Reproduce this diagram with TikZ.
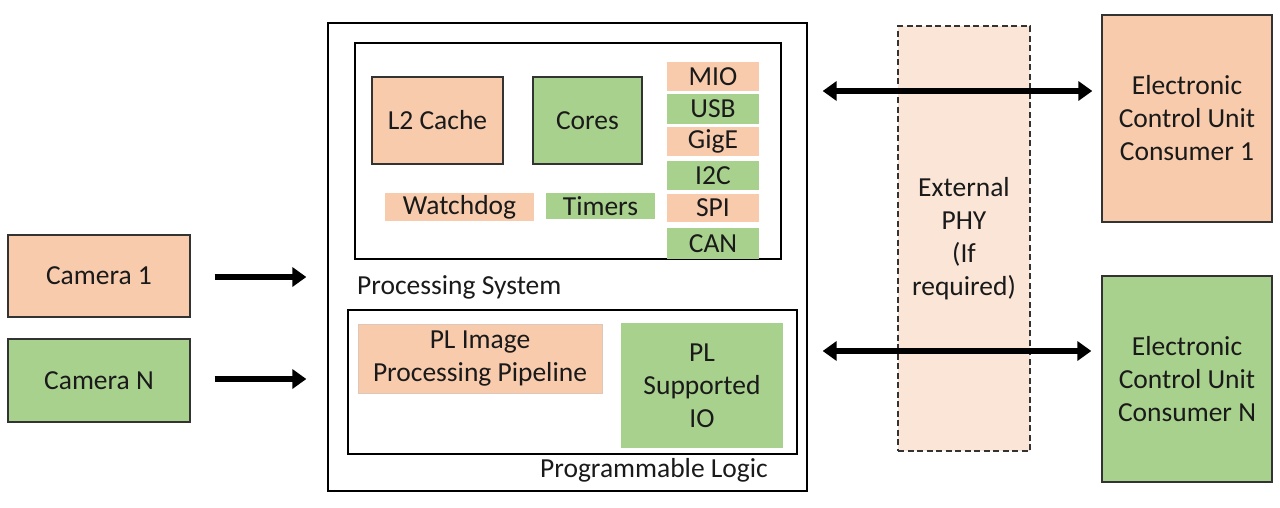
\documentclass[tikz,border=0pt]{standalone}
\usepackage{fontspec}
\setmainfont{Carlito}
\usetikzlibrary{arrows.meta}
\definecolor{pk}{HTML}{F8CBAD}
\definecolor{gr}{HTML}{A9D18E}
\definecolor{phy}{HTML}{FBE5D6}
\definecolor{txt}{HTML}{1A1A1A}
\definecolor{edge}{HTML}{333333}
\begin{document}
\begin{tikzpicture}[x=1pt,y=-1pt,
  every node/.style={font=\fontsize{27.5}{33}\selectfont, text=txt, inner sep=0pt, align=center},
  pinkbox/.style={fill=pk, draw=edge, line width=1.3pt},
  greenbox/.style={fill=gr, draw=edge, line width=1.3pt},
  pinkflat/.style={fill=pk},
  greenflat/.style={fill=gr},
  frame/.style={draw=black, line width=1.3pt},
  bigarrow/.style={line width=5.5pt, -{Triangle[length=14pt,width=19pt]}},
  duoarrow/.style={line width=5.5pt, {Triangle[length=14pt,width=19pt]}-{Triangle[length=14pt,width=19pt]}}
]
\useasboundingbox (0,0) rectangle (1280,507);
% outer system
\node[frame, minimum width=479pt, minimum height=468pt] (outer) at (567.5,257) {};
\node[frame, minimum width=426pt, minimum height=216pt] (ps) at (568,151) {};
\node[frame, minimum width=449pt, minimum height=144pt] (pl) at (572.5,382) {};
\node[anchor=west] (pslabel) at (357,287) {Processing System};
\node (pllabel) at (654,470) {Programmable Logic};
% PS contents
\node[pinkbox, minimum width=131pt, minimum height=87pt] (l2) at (437.5,120.5) {L2 Cache};
\node[greenbox, minimum width=109pt, minimum height=87pt] (cores) at (587.5,120.5) {Cores};
\node[pinkflat, minimum width=149pt, minimum height=28pt] (wd) at (459.5,207) {Watchdog};
\node[greenflat, minimum width=109pt, minimum height=26pt] (tim) at (600.5,206) {Timers};
\node[pinkflat, minimum width=92pt, minimum height=29pt] (mio) at (713,76.5) {MIO};
\node[greenflat, minimum width=92pt, minimum height=30pt] (usb) at (713,109) {USB};
\node[pinkflat, minimum width=92pt, minimum height=29pt] (gige) at (713,141.5) {GigE};
\node[greenflat, minimum width=92pt, minimum height=29pt] (i2c) at (713,175.5) {I2C};
\node[pinkflat, minimum width=92pt, minimum height=28pt] (spi) at (713,208) {SPI};
\node[greenflat, minimum width=92pt, minimum height=31pt] (can) at (713,243.5) {CAN};
% PL contents
\node[pinkflat, draw=pk!80!black!60, line width=0.6pt, minimum width=244pt, minimum height=69pt] (plimg) at (480,358.5) {PL Image\\Processing Pipeline};
\node[greenflat, minimum width=162pt, minimum height=125pt] (plio) at (702,385.5) {PL\\Supported\\IO};
% cameras
\node[pinkbox, minimum width=182pt, minimum height=82pt] (cam1) at (99,276) {Camera 1};
\node[greenbox, minimum width=182pt, minimum height=83pt] (camn) at (99,380.5) {Camera N};
% external PHY
\node[fill=phy, draw=edge, dash pattern=on 6pt off 3.5pt, line width=1.2pt, minimum width=132pt, minimum height=425pt] (phy) at (964,238.5) {External\\PHY\\(If\\required)};
% ECUs
\node[pinkbox, minimum width=170pt, minimum height=207pt] (ecu1) at (1187,118.5) {Electronic\\Control Unit\\Consumer 1};
\node[greenbox, minimum width=170pt, minimum height=206pt] (ecun) at (1187,379) {Electronic\\Control Unit\\Consumer N};
% connectors
\draw[bigarrow, shorten <=24pt, shorten >=21pt] (cam1.east) ++(0,1) coordinate (c1s) (c1s) -- (c1s -| outer.west);
\draw[bigarrow, shorten <=24pt, shorten >=21pt] (camn.east) ++(0,-1.5) coordinate (cns) (cns) -- (cns -| outer.west);
\coordinate (y1) at (0,91);
\coordinate (y2) at (0,351);
\draw[duoarrow, shorten <=15pt, shorten >=9pt] (outer.east |- y1) -- (ecu1.west |- y1);
\draw[duoarrow, shorten <=15pt, shorten >=10pt] (outer.east |- y2) -- (ecun.west |- y2);
\end{tikzpicture}
\end{document}
